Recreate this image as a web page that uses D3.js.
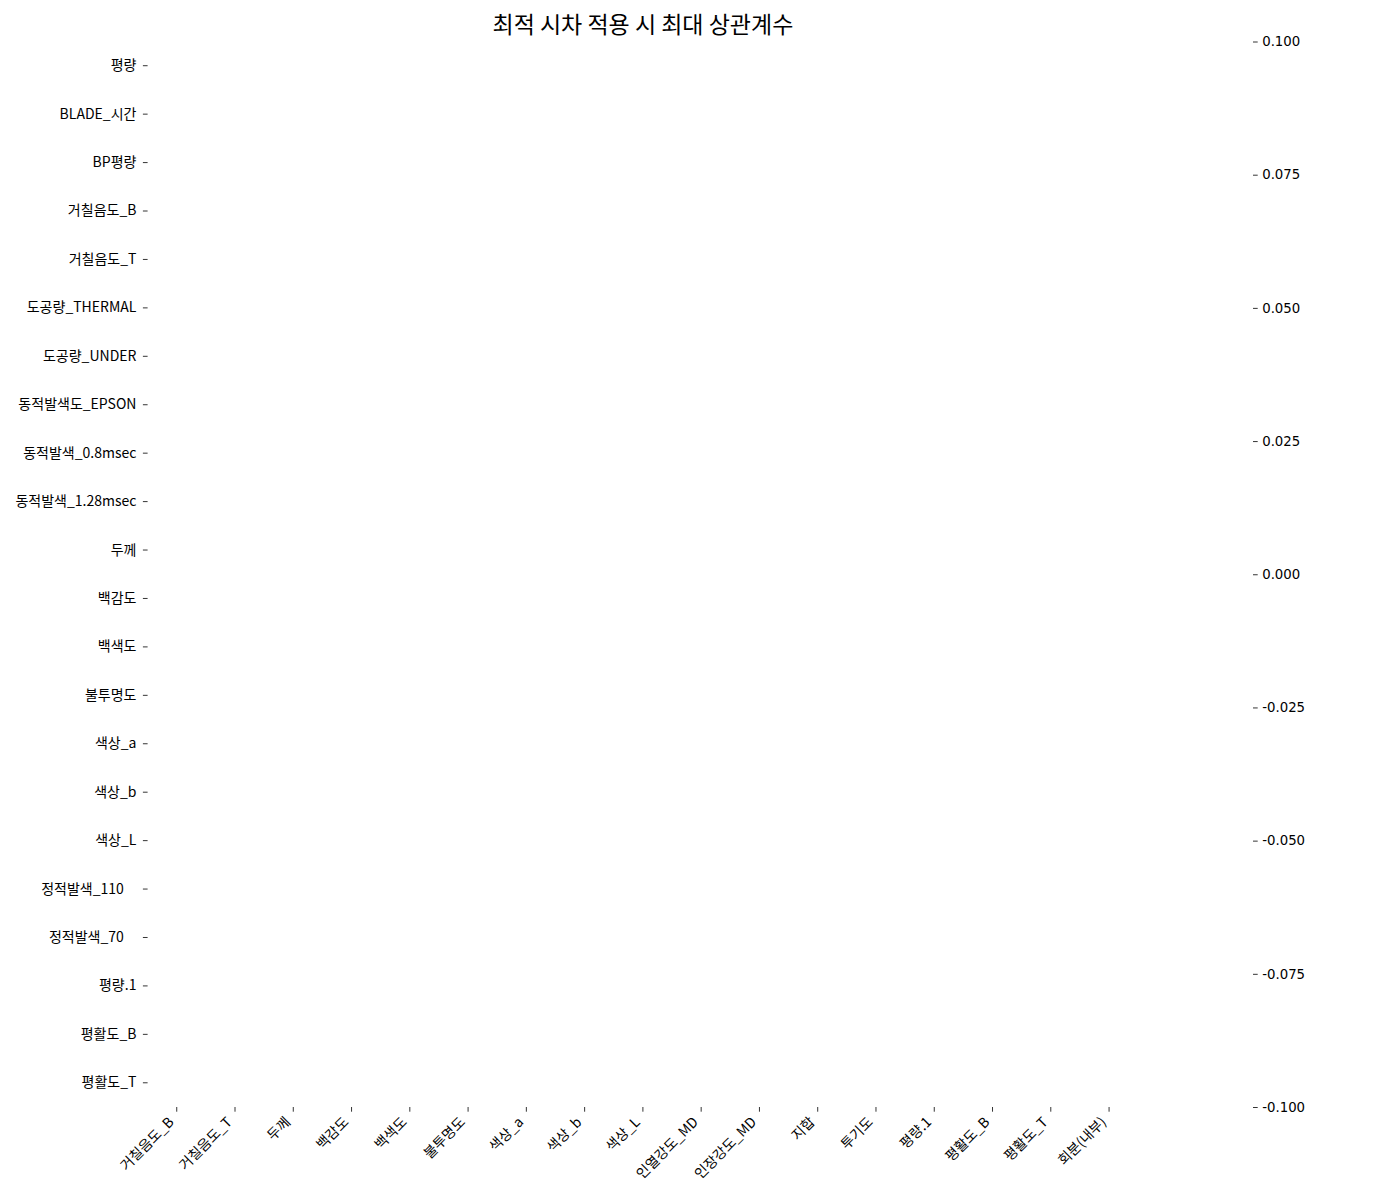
<!DOCTYPE html>
<html>
<head>
<meta charset="utf-8">
<script src="https://cdn.jsdelivr.net/npm/d3@7"></script>
<style>
  html, body { margin: 0; padding: 0; background: #fff; }
  svg { display: block; }
</style>
</head>
<body>
<svg id="chart" width="1400" height="1200"></svg>
<script>
// ---- data ----
const title = "최적 시차 적용 시 최대 상관계수";
const rowLabels = [
  "평량", "BLADE_시간", "BP평량", "거칠음도_B", "거칠음도_T", "도공량_THERMAL",
  "도공량_UNDER", "동적발색도_EPSON", "동적발색_0.8msec", "동적발색_1.28msec",
  "두께", "백감도", "백색도", "불투명도", "색상_a", "색상_b", "색상_L",
  "정적발색_110    ", "정적발색_70    ", "평량.1", "평활도_B", "평활도_T"
];
const colLabels = [
  "거칠음도_B", "거칠음도_T", "두께", "백감도", "백색도", "불투명도", "색상_a",
  "색상_b", "색상_L", "인열강도_MD", "인장강도_MD", "지합", "투기도", "평량.1",
  "평활도_B", "평활도_T", "회분(내부)"
];
// every cell is empty (NaN) in the reference
const cellValues = rowLabels.map(() => colLabels.map(() => NaN));
const colorDomain = [-0.1, 0.1];
const colorTicks = [-0.100, -0.075, -0.050, -0.025, 0.000, 0.025, 0.050, 0.075, 0.100];

(function () {
  // ---- layout ----
  const svg = d3.select("#chart");
  const L = 147.6, R = 1138.2, T = 41.5, B = 1107;
  const cbX = 1253;
  const krFont = "'Noto Sans CJK KR', 'Noto Sans', sans-serif";

  const x = d3.scaleBand().domain(colLabels).range([L, R]);
  const y = d3.scaleBand().domain(rowLabels).range([T, B]);
  const color = d3.scaleSequential(d3.interpolateRdBu).domain([colorDomain[1], colorDomain[0]]);

  // cells (NaN -> not drawn)
  const cells = [];
  rowLabels.forEach((r, i) => colLabels.forEach((c, j) => cells.push({ r, c, v: cellValues[i][j] })));
  svg.append("g").selectAll("rect")
    .data(cells.filter(d => !isNaN(d.v)))
    .join("rect")
    .attr("x", d => x(d.c)).attr("y", d => y(d.r))
    .attr("width", x.bandwidth()).attr("height", y.bandwidth())
    .attr("fill", d => color(d.v));

  // title
  svg.append("text")
    .attr("x", (L + R) / 2).attr("y", 33)
    .attr("text-anchor", "middle")
    .attr("font-family", krFont).attr("font-size", 23)
    .attr("fill", "#000")
    .text(title);

  // y axis
  const yAxis = svg.append("g")
    .attr("transform", `translate(${L},0)`)
    .call(d3.axisLeft(y).tickSize(4.7).tickPadding(6.5));
  yAxis.select(".domain").remove();
  yAxis.selectAll("text").attr("font-family", krFont).attr("font-size", 14).attr("fill", "#000")
    .style("white-space", "pre");
  yAxis.selectAll("line").attr("stroke", "#000").attr("stroke-width", 0.8);

  // x axis
  const xAxis = svg.append("g")
    .attr("transform", `translate(0,${B})`)
    .call(d3.axisBottom(x).tickSize(4.7).tickPadding(0));
  xAxis.select(".domain").remove();
  xAxis.selectAll("line").attr("stroke", "#000").attr("stroke-width", 0.8);
  xAxis.selectAll("text")
    .attr("font-family", krFont).attr("font-size", 14).attr("fill", "#000")
    .attr("text-anchor", "end")
    .attr("dy", null)
    .attr("y", 0)
    .attr("transform", "translate(-2,16) rotate(-45)");

  // colorbar axis (colorbar itself is empty)
  const cbScale = d3.scaleLinear().domain(colorDomain).range([B, T]);
  const fmt = d3.formatLocale({ decimal: ".", thousands: ",", grouping: [3], currency: ["", ""], minus: "-" }).format(".3f");
  const cbAxis = svg.append("g")
    .attr("transform", `translate(${cbX},0)`)
    .call(d3.axisRight(cbScale).tickValues(colorTicks).tickFormat(fmt).tickSize(4.7).tickPadding(4.5));
  cbAxis.select(".domain").remove();
  cbAxis.selectAll("line").attr("stroke", "#000").attr("stroke-width", 0.8);
  cbAxis.selectAll("text").attr("font-family", "'DejaVu Sans', sans-serif").attr("font-size", 13.3).attr("fill", "#000");
})();
</script>
</body>
</html>
